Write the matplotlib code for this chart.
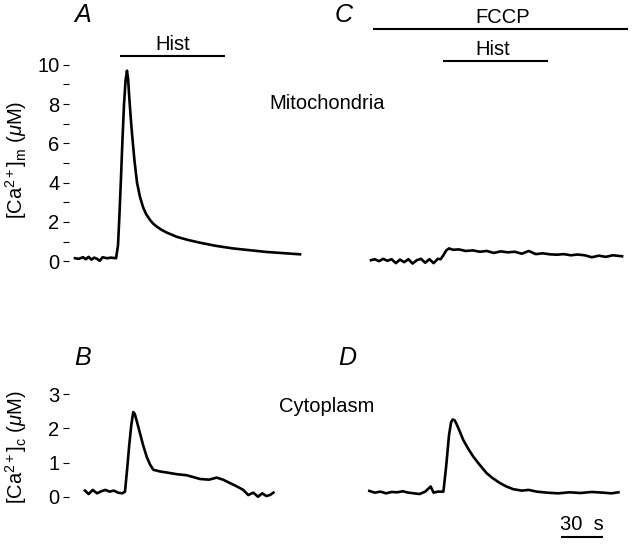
import matplotlib
matplotlib.use("Agg")
import matplotlib.pyplot as plt
from matplotlib.ticker import MultipleLocator

plt.rcParams['font.family'] = ['Liberation Sans', 'DejaVu Sans']
plt.rcParams['mathtext.fontset'] = 'custom'
plt.rcParams['mathtext.rm'] = 'Liberation Sans'
plt.rcParams['mathtext.it'] = 'Liberation Sans:italic'

# time in s, concentration in uM
tA = [4.3, 7, 10, 12, 14, 16, 18, 20, 22, 24, 27, 30, 33.6,
      35, 36, 37, 38.2, 39.3, 40.4, 41.4, 42.2, 42.9, 44, 45, 46.8, 48.6, 50.6,
      52.9, 55.2, 57.9, 60, 62.9, 66, 70, 77,
      85, 93.6, 105, 117, 129, 141, 153, 165]
yA = [0.15, 0.12, 0.2, 0.1, 0.22, 0.08, 0.18, 0.12, 0.02, 0.2, 0.15, 0.18, 0.15,
      0.8, 2.3, 4.0, 6.2, 8.0, 9.2, 9.7, 9.3, 8.5, 7.4, 6.5, 5.1, 4.0, 3.3,
      2.75, 2.38, 2.1, 1.92, 1.75, 1.6, 1.45, 1.24,
      1.08, 0.94, 0.78, 0.65, 0.56, 0.47, 0.41, 0.35]

tC = [4.3, 7, 10, 13, 16, 19, 22, 25, 28, 31, 34, 37, 40, 43, 46, 49, 52, 54,
      56, 58, 60, 63, 67, 72, 77, 82, 87, 92, 97, 102, 107, 112, 117, 122,
      127, 132, 137, 142, 147, 152, 157, 162, 167, 172, 177, 183.6]
yC = [0.05, 0.1, 0.0, 0.12, 0.02, 0.1, -0.1, 0.08, -0.05, 0.1, -0.12, 0.05, 0.12,
      -0.08, 0.1, -0.1, 0.12, 0.1,
      0.3, 0.55, 0.65, 0.58, 0.6, 0.52, 0.55, 0.48, 0.52, 0.42, 0.5, 0.45, 0.48,
      0.38, 0.52, 0.36, 0.4, 0.35, 0.33, 0.36, 0.3, 0.34, 0.3, 0.2, 0.28, 0.22,
      0.3, 0.25]

tB = [11.4, 14, 17, 20, 23, 26, 29, 32, 35, 38, 40,
      41.5, 43, 44.5, 45.9, 47, 48.5, 50.7, 53, 55.5, 57.8, 60.2, 65, 69.8, 77, 84,
      93.6, 100, 105.5, 110, 115, 120, 124.5, 128, 131.7, 135, 138, 141, 143.5, 146]
yB = [0.18, 0.08, 0.2, 0.1, 0.16, 0.2, 0.15, 0.18, 0.12, 0.1, 0.15,
      0.8, 1.5, 2.1, 2.48, 2.42, 2.2, 1.86, 1.5, 1.17, 0.95, 0.79, 0.74, 0.71, 0.66, 0.63,
      0.52, 0.5, 0.56, 0.5, 0.4, 0.3, 0.2, 0.05, 0.12, 0.0, 0.1, 0.02, 0.05, 0.12]

tD = [3.1, 7, 11, 15, 19, 23, 27, 31, 35, 39, 43, 46.9, 49, 52, 56,
      58, 60, 61.5, 62.6, 64, 65.5, 67.8, 70.2, 73.8, 77.4, 82, 86.9, 91, 96.4, 101,
      106, 112, 117, 122.6, 130, 138, 146, 154, 162, 170, 176, 181]
yD = [0.17, 0.12, 0.15, 0.1, 0.14, 0.13, 0.16, 0.12, 0.1, 0.08, 0.15, 0.3, 0.12, 0.15, 0.15,
      0.9, 1.8, 2.18, 2.26, 2.24, 2.12, 1.9, 1.66, 1.4, 1.17, 0.93, 0.69, 0.55, 0.4, 0.3,
      0.22, 0.18, 0.2, 0.15, 0.12, 0.1, 0.13, 0.11, 0.14, 0.12, 0.1, 0.13]

hist_A = (36.4, 111.4)
hist_C = (55.7, 130.7)
fccp_C = (5.7, 187.9)

W, H = 633, 545
fig = plt.figure(figsize=(W / 100, H / 100), dpi=100)

def px_axes(x0, x1, ytop, ybot):
    return fig.add_axes([x0 / W, 1 - ybot / H, (x1 - x0) / W, (ybot - ytop) / H])

axA = px_axes(69, 307, 55, 271)
axC = px_axes(365, 632.4, 55, 271)
axB = px_axes(69, 307, 384, 507)
axD = px_axes(365, 632.4, 384, 507)

for ax in (axA, axB, axC, axD):
    for s in ax.spines.values():
        s.set_visible(False)
    ax.set_xticks([])
    ax.patch.set_visible(False)

for ax in (axA, axB):
    ax.set_xlim(0, 170)
for ax in (axC, axD):
    ax.set_xlim(0, 191)
for ax in (axA, axC):
    ax.set_ylim(-0.5, 10.5)
for ax in (axB, axD):
    ax.set_ylim(-0.3, 3.3)
for ax in (axC, axD):
    ax.set_yticks([])

lw = 1.9
axA.plot(tA, yA, color='black', lw=lw, solid_joinstyle='round')
axC.plot(tC, yC, color='black', lw=lw, solid_joinstyle='round')
axB.plot(tB, yB, color='black', lw=lw, solid_joinstyle='round')
axD.plot(tD, yD, color='black', lw=lw, solid_joinstyle='round')

fs = 14.5
axA.yaxis.set_major_locator(MultipleLocator(2))
axA.yaxis.set_minor_locator(MultipleLocator(1))
axB.set_yticks([0, 1, 2, 3])
for ax in (axA, axB):
    ax.tick_params(axis='y', which='major', length=4.5, width=0.8, pad=2.5, labelsize=fs)
    ax.tick_params(axis='y', which='minor', length=4, width=0.8)

axA.set_ylabel('[Ca$^{2+}$]$_\\mathrm{m}$ ($\\mathit{\\mu}$M)', fontsize=fs)
axA.yaxis.set_label_coords(-0.17, 0.514)
axB.set_ylabel('[Ca$^{2+}$]$_\\mathrm{c}$ ($\\mathit{\\mu}$M)', fontsize=fs)
axB.yaxis.set_label_coords(-0.17, 0.488)

# bars for drug application
bar_kw = dict(color='black', lw=1.5, clip_on=False, solid_capstyle='butt')
axA.plot(hist_A, [10.45, 10.45], **bar_kw)
axA.text(sum(hist_A) / 2, 10.55, 'Hist', ha='center', va='bottom', fontsize=fs)
axC.plot(hist_C, [10.2, 10.2], **bar_kw)
axC.text(sum(hist_C) / 2 - 2, 10.3, 'Hist', ha='center', va='bottom', fontsize=fs)
axC.plot(fccp_C, [11.84, 11.84], **bar_kw)
axC.text(98, 11.95, 'FCCP', ha='center', va='bottom', fontsize=fs)

# panel letters
letter_kw = dict(fontsize=18, style='italic', ha='center', va='center')
axA.text(10, 12.55, 'A', **letter_kw)
axC.text(-15, 12.55, 'C', clip_on=False, **letter_kw)
axB.text(10, 4.05, 'B', **letter_kw)
axD.text(-12.9, 4.05, 'D', clip_on=False, **letter_kw)

fig.text(327 / W, 1 - 103 / H, 'Mitochondria', ha='center', va='center', fontsize=fs)
fig.text(327 / W, 1 - 407 / H, 'Cytoplasm', ha='center', va='center', fontsize=fs)

# 30 s scale bar
axD.plot([140, 170], [-1.19, -1.19], **bar_kw)
axD.text(155, -1.08, '30  s', ha='center', va='bottom', fontsize=fs)

fig.savefig('out.png', dpi=100)
